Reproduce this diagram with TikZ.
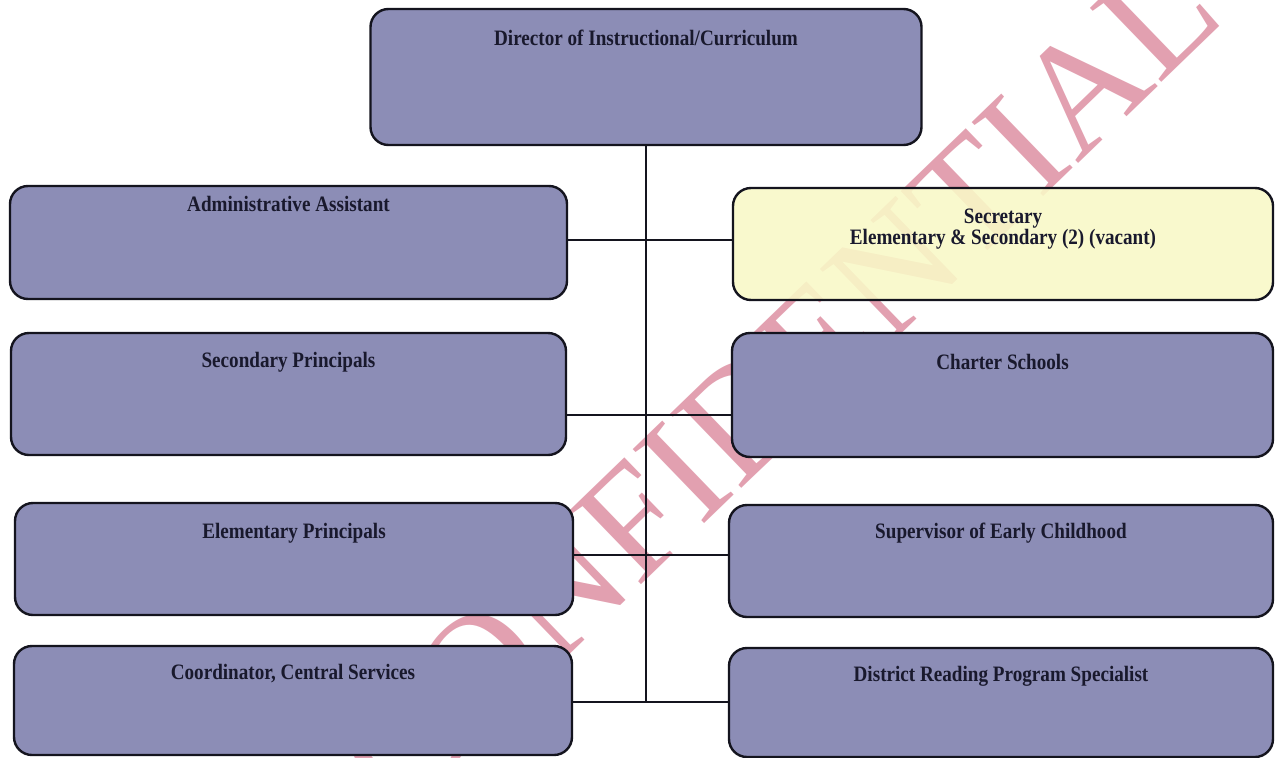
\documentclass[tikz,border=0pt]{standalone}
\usepackage{fontspec}
\newfontfamily\boxfont{Liberation Serif}[FakeStretch=0.87]
\newfontfamily\markfont{Liberation Serif}
\definecolor{boxfill}{RGB}{140,141,182}
\definecolor{notefill}{RGB}{249,249,199}
\definecolor{markpink}{RGB}{226,160,176}
\definecolor{inkline}{RGB}{20,20,30}
\definecolor{labelink}{RGB}{25,25,45}
\begin{document}
\begin{tikzpicture}[x=1pt,y=1pt,
  orgbox/.style={draw=inkline, line width=2.4pt, rounded corners=18pt,
    fill=boxfill, inner sep=0pt},
  notebox/.style={orgbox, fill=notefill, fill opacity=0.88},
  lbl/.style={font=\boxfont\bfseries\fontsize{22}{21}\selectfont,
    text=labelink, align=center, inner sep=0pt, anchor=base},
  link/.style={draw=inkline, line width=2pt}]

\useasboundingbox (0,0) rectangle (1275,-758);
\clip (0,0) rectangle (1275,-758);
\fill[white] (0,0) rectangle (1275,-758);

% watermark across the sheet
\node[font=\markfont\fontsize{157}{157}\selectfont, text=markpink,
      rotate=44, inner sep=0pt] (mark) at (778,-382) {CONFIDENTIAL};

% boxes
\node[orgbox, minimum width=551pt, minimum height=136pt] (dir) at (646,-77) {};
\node[orgbox, minimum width=557pt, minimum height=113pt] (admin) at (288.5,-242.5) {};
\node[notebox, minimum width=540pt, minimum height=112pt] (secr) at (1003,-244) {};
\node[orgbox, minimum width=555pt, minimum height=122pt] (secp) at (288.5,-394) {};
\node[orgbox, minimum width=541pt, minimum height=124pt] (chart) at (1002.5,-395) {};
\node[orgbox, minimum width=558pt, minimum height=112pt] (elem) at (294,-559) {};
\node[orgbox, minimum width=544pt, minimum height=112pt] (early) at (1001,-561) {};
\node[orgbox, minimum width=558pt, minimum height=109pt] (coord) at (293,-700.5) {};
\node[orgbox, minimum width=544pt, minimum height=109pt] (read) at (1001,-702.5) {};

% labels
\node[lbl] (dirT) at ([yshift=-38pt]dir.north) {Director of Instructional/Curriculum};
\node[lbl] (adminT) at ([yshift=-27pt]admin.north) {Administrative Assistant};
\node[lbl] (secrT) at ([yshift=-58pt]secr.north) {Secretary\\Elementary \& Secondary (2) (vacant)};
\node[lbl] (secpT) at ([yshift=-36pt]secp.north) {Secondary Principals};
\node[lbl] (chartT) at ([yshift=-38pt]chart.north) {Charter Schools};
\node[lbl] (elemT) at ([yshift=-37pt]elem.north) {Elementary Principals};
\node[lbl] (earlyT) at ([yshift=-35pt]early.north) {Supervisor of Early Childhood};
\node[lbl] (coordT) at ([yshift=-35pt]coord.north) {Coordinator, Central Services};
\node[lbl] (readT) at ([yshift=-35pt]read.north) {District Reading Program Specialist};

% trunk and branches
\coordinate (j1) at (646,-240);
\coordinate (j2) at (646,-415);
\coordinate (j3) at (646,-555);
\coordinate (j4) at (646,-702);
\draw[link] (dir.south) -- (j4);
\draw[link] (admin.east |- j1) -- (secr.west |- j1);
\draw[link] (secp.east |- j2) -- (chart.west |- j2);
\draw[link] (elem.east |- j3) -- (early.west |- j3);
\draw[link] (coord.east |- j4) -- (read.west |- j4);
\end{tikzpicture}
\end{document}
